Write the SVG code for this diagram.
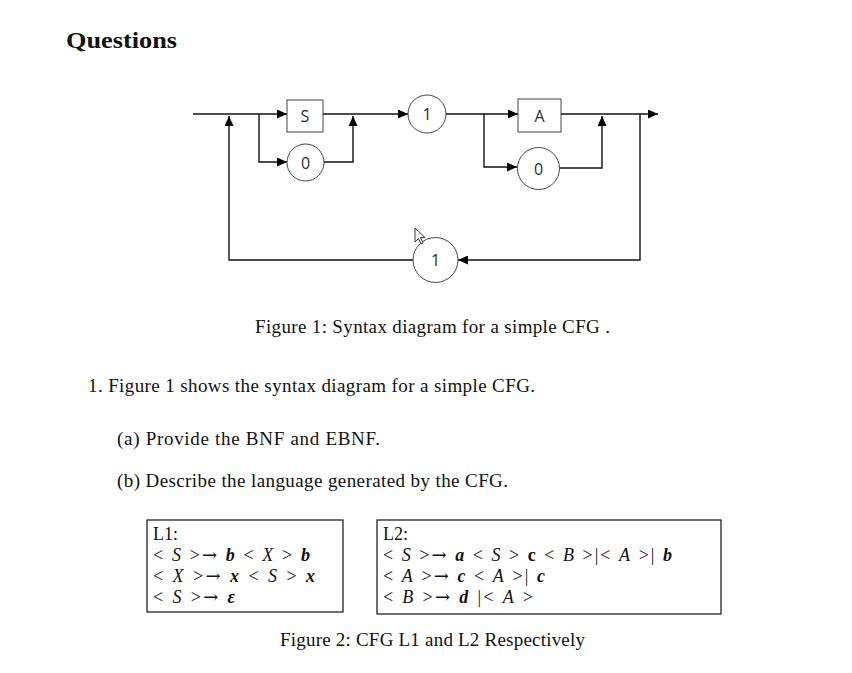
<svg xmlns="http://www.w3.org/2000/svg" width="852" height="673" viewBox="0 0 852 673">
<style>
.t{font-family:"Liberation Serif","DejaVu Serif",serif;fill:#111}
.lbl{font-family:"Open Sans","Liberation Sans",sans-serif;font-size:16px;fill:#2a2a3a;text-anchor:middle}
.ln{fill:none;stroke:#111;stroke-width:1.4}
.nd{fill:#fff;stroke:#444;stroke-width:1}
.i{font-style:italic}
.bi{font-style:italic;font-weight:bold}
.b{font-weight:bold}
.ar{font-family:"DejaVu Serif",serif}
.box{fill:none;stroke:#111;stroke-width:1.2}
</style>
<defs>
<marker id="ah" markerUnits="userSpaceOnUse" markerWidth="10" markerHeight="9" refX="10" refY="4.5" orient="auto">
<path d="M0,0 L10,4.5 L0,9 z" fill="#000"/>
</marker>
</defs>
<rect width="852" height="673" fill="#fff"/>
<text class="t" x="66" y="48" font-size="24" font-weight="bold" textLength="111" lengthAdjust="spacingAndGlyphs">Questions</text>
<g id="connectors">
<path class="ln" d="M193,114 H287" marker-end="url(#ah)"/>
<path class="ln" d="M323,114 H408" marker-end="url(#ah)"/>
<path class="ln" d="M446,114 H518" marker-end="url(#ah)"/>
<path class="ln" d="M561,114 H658" marker-end="url(#ah)"/>
<path class="ln" d="M259,114 V162 H287" marker-end="url(#ah)"/>
<path class="ln" d="M324,162 H353 V116" marker-end="url(#ah)"/>
<path class="ln" d="M484,114 V167 H517" marker-end="url(#ah)"/>
<path class="ln" d="M559,168 H602 V116" marker-end="url(#ah)"/>
<path class="ln" d="M640,114 V260 H458" marker-end="url(#ah)"/>
<path class="ln" d="M413,260 H229 V116" marker-end="url(#ah)"/>
</g>
<g id="node-S"><rect class="nd" x="287" y="100" width="36" height="32"/><text class="lbl" x="305" y="122">S</text></g>
<g id="node-0a"><circle class="nd" cx="305.5" cy="162.5" r="18.5"/><text class="lbl" x="305.5" y="168.5">0</text></g>
<g id="node-1a"><circle class="nd" cx="427" cy="114" r="19"/><text class="lbl" x="427" y="120">1</text></g>
<g id="node-A"><rect class="nd" x="518" y="99" width="43" height="33"/><text class="lbl" x="539.5" y="121.5">A</text></g>
<g id="node-0b"><circle class="nd" cx="538.5" cy="168.5" r="21"/><text class="lbl" x="538.5" y="174.5">0</text></g>
<g id="node-1b"><circle class="nd" cx="435.5" cy="260" r="22.5"/><text class="lbl" x="435.5" y="266">1</text></g>
<g id="cursor"><path d="M415,228 L415,242 L418.5,238.5 L421,244 L423,243 L420.5,237.5 L425,237.5 Z" fill="#fff" stroke="#222" stroke-width="0.9"/></g>
<text class="t" x="255" y="333" font-size="19" textLength="355" lengthAdjust="spacing">Figure 1: Syntax diagram for a simple CFG .</text>
<text class="t" x="88" y="392" font-size="19" textLength="447" lengthAdjust="spacing">1. Figure 1 shows the syntax diagram for a simple CFG.</text>
<text class="t" x="117" y="445" font-size="19" textLength="263" lengthAdjust="spacing">(a) Provide the BNF and EBNF.</text>
<text class="t" x="117" y="487" font-size="19" textLength="391" lengthAdjust="spacing">(b) Describe the language generated by the CFG.</text>
<rect class="box" x="147" y="520" width="196" height="92"/>
<rect class="box" x="377" y="520" width="344" height="94"/>
<g class="t" font-size="18">
<text x="153" y="540" textLength="25" lengthAdjust="spacing">L1:</text>
<text x="153" y="561" textLength="157" lengthAdjust="spacing">&lt; <tspan class="i">S</tspan> &gt;<tspan class="ar">→</tspan> <tspan class="bi">b</tspan> &lt; <tspan class="i">X</tspan> &gt; <tspan class="bi">b</tspan></text>
<text x="153" y="582" textLength="162" lengthAdjust="spacing">&lt; <tspan class="i">X</tspan> &gt;<tspan class="ar">→</tspan> <tspan class="bi">x</tspan> &lt; <tspan class="i">S</tspan> &gt; <tspan class="bi">x</tspan></text>
<text x="153" y="603" textLength="82" lengthAdjust="spacing">&lt; <tspan class="i">S</tspan> &gt;<tspan class="ar">→</tspan> <tspan class="bi">ε</tspan></text>
<text x="383" y="540" textLength="25" lengthAdjust="spacing">L2:</text>
<text x="383" y="561" textLength="289" lengthAdjust="spacing">&lt; <tspan class="i">S</tspan> &gt;<tspan class="ar">→</tspan> <tspan class="bi">a</tspan> &lt; <tspan class="i">S</tspan> &gt; <tspan class="b">c</tspan> &lt; <tspan class="i">B</tspan> &gt;|&lt; <tspan class="i">A</tspan> &gt;| <tspan class="bi">b</tspan></text>
<text x="383" y="582" textLength="162" lengthAdjust="spacing">&lt; <tspan class="i">A</tspan> &gt;<tspan class="ar">→</tspan> <tspan class="bi">c</tspan> &lt; <tspan class="i">A</tspan> &gt;| <tspan class="bi">c</tspan></text>
<text x="383" y="603" textLength="150" lengthAdjust="spacing">&lt; <tspan class="i">B</tspan> &gt;<tspan class="ar">→</tspan> <tspan class="bi">d</tspan> |&lt; <tspan class="i">A</tspan> &gt;</text>
</g>
<text class="t" x="280" y="646" font-size="19" textLength="305" lengthAdjust="spacing">Figure 2: CFG L1 and L2 Respectively</text>
</svg>
